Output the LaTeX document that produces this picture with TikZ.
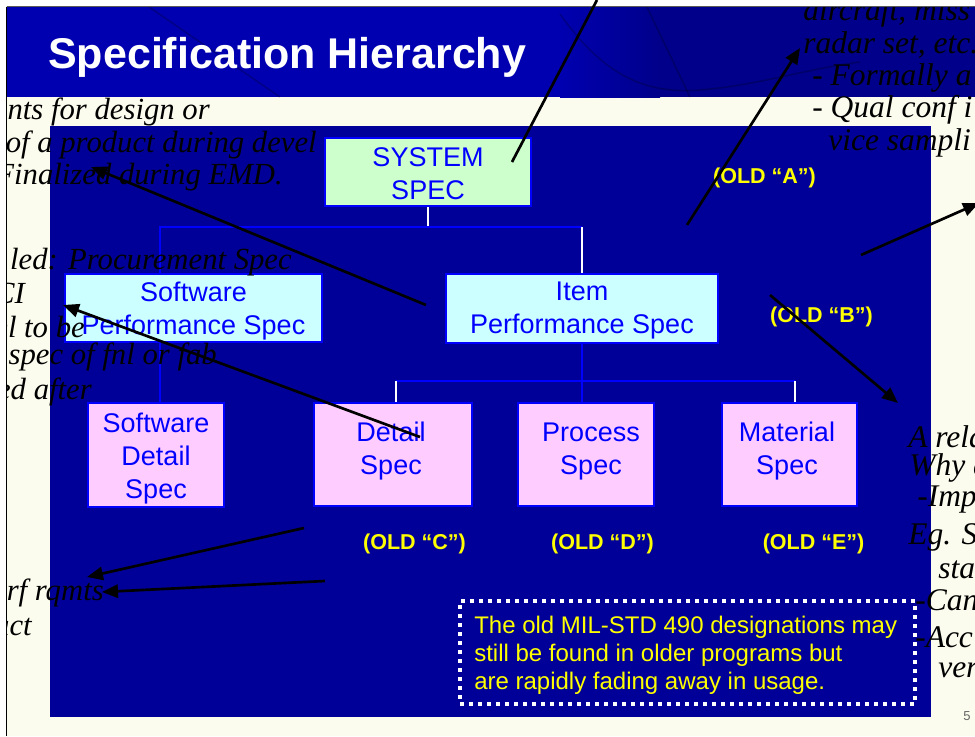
\documentclass[tikz,border=0pt]{standalone}
\usepackage{fontspec}
\setmainfont{Liberation Sans}
\newfontfamily\notefont{Liberation Serif}
\usetikzlibrary{arrows.meta}

% sizes given in pixels of the 975 x 736 sheet (1 px = 0.75 pt)
\newcommand\pxsize[2]{\fontsize{\dimexpr #1pt*3/4\relax}{\dimexpr #2pt*3/4\relax}\selectfont}

\definecolor{cream}{HTML}{FCFCEE}
\definecolor{hdrlight}{HTML}{0000B0}
\definecolor{hdrdark}{HTML}{00008A}
\definecolor{panelblue}{HTML}{000099}
\definecolor{specblue}{HTML}{0000FF}
\definecolor{sysgreen}{HTML}{CCFFCC}
\definecolor{itemcyan}{HTML}{CCFFFF}
\definecolor{detpink}{HTML}{FFCCFF}
\definecolor{oldyellow}{HTML}{FFFF00}

\tikzset{
  specbox/.style={draw=specblue, line width=2pt, inner sep=0pt},
  boxtext/.style={inner sep=0pt, text=specblue, font=\pxsize{27}{33}, align=center},
  busline/.style={draw=specblue, line width=1.6pt},
  tapline/.style={draw=white, line width=1.6pt},
  oldlabel/.style={inner sep=0pt, text=oldyellow, font=\bfseries\pxsize{21.5}{21.5}},
  remark/.style={inner sep=0pt, text=black, font=\notefont\itshape\pxsize{30.7}{32}, anchor=east},
  sideremark/.style={inner sep=0pt, text=black, font=\notefont\itshape\pxsize{31.5}{32}, anchor=west},
  pointer/.style={draw=black, line width=2pt, -{Triangle[length=12pt,width=10pt]}},
}

\begin{document}
\begin{tikzpicture}[x=0.75pt,y=-0.75pt]
\useasboundingbox (0,0) rectangle (975,736);
\fill[white] (0,0) rectangle (975,736);

% page and title band
\fill[cream] (7,7) rectangle (975,736);
\fill[hdrlight] (7,7) rectangle (560,97);
\shade[left color=hdrlight, right color=hdrdark] (560,7) rectangle (660,97);
\fill[hdrdark] (660,7) rectangle (975,97);
\begin{scope}[draw=black, opacity=0.22, line width=1.2pt]
  \draw (149,7) -- (280,97);
  \draw (647,7) -- (690,97);
  \draw (560,14) .. controls (600,70) and (640,95) .. (700,90)
        .. controls (760,85) and (800,70) .. (860,62);
\end{scope}
\draw[black!65, line width=0.9pt] (6.5,6.5) -- (975,6.5);
\draw[black, line width=1pt] (6.5,6.5) -- (6.5,736);
\node[anchor=west, inner sep=0pt, text=white, font=\bfseries\pxsize{43}{43}] (title) at (48,57) {Specification Hierarchy};

% main panel
\fill[panelblue] (50,126) rectangle (931,717);

% specification boxes
\node[specbox, fill=sysgreen, minimum width=154.5pt, minimum height=51pt] (sys) at (428,172) {};
\node[specbox, fill=itemcyan, minimum width=204pt, minimum height=51.75pt] (item) at (582,308.5) {};
\node[specbox, fill=itemcyan, minimum width=192.75pt, minimum height=51pt] (swperf) at (193.5,308) {};
\node[specbox, fill=detpink, minimum width=102pt, minimum height=78pt] (swdet) at (156,455) {};
\node[specbox, fill=detpink, minimum width=118.5pt, minimum height=77.25pt] (detail) at (393,454.5) {};
\node[specbox, fill=detpink, minimum width=102pt, minimum height=77.25pt] (proc) at (586,454.5) {};
\node[specbox, fill=detpink, minimum width=101.25pt, minimum height=77.25pt] (mat) at (789.5,454.5) {};

\node[boxtext] (systext) at (428,174) {SYSTEM\\SPEC};
\node[boxtext] (itemtext) at (582,311) {Item\\Performance Spec};
\node[boxtext] (swperftext) at (193.5,311) {Software\\Performance Spec};
\node[boxtext] (swdettext) at (156,459) {Software\\Detail\\Spec};
\node[boxtext] (detailtext) at (391,451.5) {Detail\\Spec};
\node[boxtext] (proctext) at (591,451.5) {Process\\Spec};
\node[boxtext] (mattext) at (787,451.5) {Material\\Spec};

% tree connectors
\coordinate (busA) at (0,227);
\coordinate (busB) at (0,381);
\coordinate (swtap) at (160,0);
\coordinate (dettap) at (396,0);
\coordinate (mattap) at (795,0);
\draw[tapline] (sys.south) -- (sys.south |- busA);
\draw[busline] (swtap |- swperf.north) -- (swtap |- busA) -- (item.north |- busA);
\draw[tapline] (item.north |- busA) -- (item.north);
\draw[busline] (swtap |- swperf.south) -- (swtap |- swdet.north);
\draw[busline] (item.south) -- (item.south |- proc.north);
\draw[busline] (dettap |- busB) -- (mattap |- busB);
\draw[tapline] (dettap |- busB) -- (dettap |- detail.north);
\draw[tapline] (mattap |- busB) -- (mattap |- mat.north);

% old MIL-STD 490 letters
\node[oldlabel] (oldA) at (764.5,178) {(OLD “A”)};
\node[oldlabel] (oldB) at (821.5,317) {(OLD “B”)};
\node[oldlabel] (oldC) at (414.5,544) {(OLD “C”)};
\node[oldlabel] (oldD) at (602.5,544) {(OLD “D”)};
\node[oldlabel] (oldE) at (813.5,544) {(OLD “E”)};

% note box
\node[draw=white, line width=3pt, dash pattern=on 3pt off 3.75pt,
      minimum width=341.25pt, minimum height=77.25pt, inner sep=0pt] (note) at (687.5,652.5) {};
\node[anchor=west, inner sep=0pt, text=oldyellow, font=\pxsize{24}{28}, align=left] (notetext) at (474,655)
  {The old MIL-STD 490 designations may\\still be found in older programs but\\are rapidly fading away in usage.};

\node[inner sep=0pt, text=black!60, font=\pxsize{13}{13}] (pnum) at (967,716) {5};

% remarks running over the sheet
\begin{scope}
  \clip (7,7) rectangle (975,736);
  \node[remark] (l1) at (210,112) {nts for design or};
  \node[remark] (l2) at (317,145) {of a product during devel};
  \node[remark] (l3) at (283,177) {Finalized during EMD.};
  \node[remark] (l4) at (292,262) {led: Procurement Spec};
  \node[remark] (l5) at (25,293) {CI};
  \node[remark] (l6) at (85,327) {el to be};
  \node[remark] (l7) at (217,357) {spec of fnl or fab};
  \node[remark] (l8) at (92,392) {ed after};
  \node[remark] (l9) at (104,593) {erf rqmts};
  \node[remark] (l10) at (32,627) {uct};
  \node[sideremark] (r1) at (803,13) {aircraft, miss};
  \node[sideremark] (r2) at (803,45) {radar set, etc.};
  \node[sideremark] (r3) at (812,78) {- Formally a};
  \node[sideremark] (r4) at (812,110) {- Qual conf i};
  \node[sideremark] (r5) at (828,143) {vice sampli};
  \node[sideremark] (m1) at (908,437) {A rela};
  \node[sideremark] (m2) at (909,468) {Why d};
  \node[sideremark] (m3) at (917,500) {-Imp};
  \node[sideremark] (m4) at (908,537) {Eg. Sp};
  \node[sideremark] (m5) at (938,570) {sta};
  \node[sideremark] (m6) at (915,600) {-Can};
  \node[sideremark] (m7) at (915,637) {-Acc};
  \node[sideremark] (m8) at (938,670) {ver};
\end{scope}

% pointers
\coordinate (p1s) at (512,162);  \coordinate (p1e) at (597,0);
\coordinate (p2s) at (687,225);  \coordinate (p2e) at (800,48);
\coordinate (p3s) at (426,305);  \coordinate (p3e) at (91,167);
\coordinate (p4s) at (420,437);  \coordinate (p4e) at (63,305);
\coordinate (p5s) at (861,255);  \coordinate (p5e) at (979,203);
\coordinate (p6s) at (770,295);  \coordinate (p6e) at (898,403);
\coordinate (p7s) at (304,528);  \coordinate (p7e) at (87,577);
\coordinate (p8s) at (325,581);  \coordinate (p8e) at (102,592);
\draw[black, line width=2pt] (p1s) -- (p1e);
\draw[pointer] (p2s) -- (p2e);
\draw[pointer] (p3s) -- (p3e);
\draw[pointer] (p4s) -- (p4e);
\draw[pointer] (p5s) -- (p5e);
\draw[pointer] (p6s) -- (p6e);
\draw[pointer] (p7s) -- (p7e);
\draw[pointer] (p8s) -- (p8e);
\end{tikzpicture}
\end{document}
